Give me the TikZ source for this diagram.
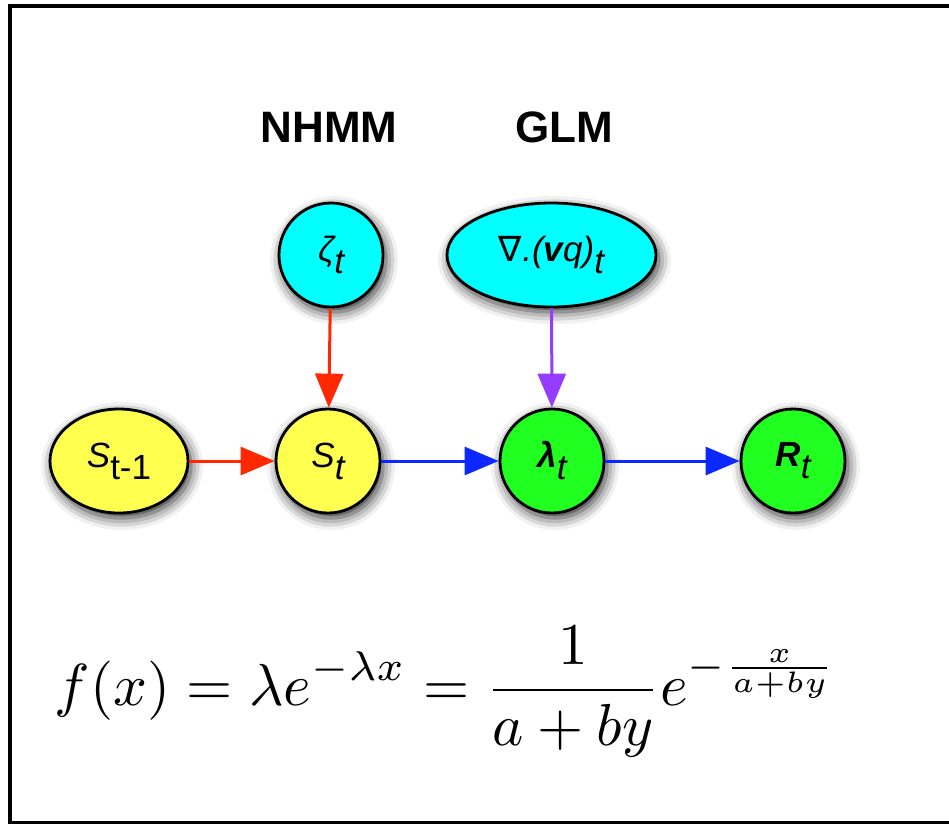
\documentclass[tikz,border=0pt]{standalone}
\usepackage{fontspec}
\setsansfont{Liberation Sans}
\newfontfamily\dejavu{DejaVu Sans}
\usetikzlibrary{arrows.meta,shadows.blur,shapes.geometric}
\definecolor{nyellow}{RGB}{255,255,80}
\definecolor{ncyan}{RGB}{0,255,255}
\definecolor{ngreen}{RGB}{32,255,32}
\definecolor{ared}{RGB}{255,40,0}
\definecolor{ablue}{RGB}{10,40,255}
\definecolor{apurple}{RGB}{150,60,255}
\newcommand\lowsub[1]{\raisebox{-12pt}{#1}}
\tikzset{
  gnode/.style={draw=black, line width=2.8pt, inner sep=0pt,
    font=\fontsize{35}{40}\selectfont\sffamily,
    blur shadow={shadow xshift=3pt, shadow yshift=-5pt, shadow blur radius=12pt, shadow opacity=85}},
  circnode/.style={gnode, circle, minimum size=104pt},
  ellnode/.style={gnode, ellipse},
  arr/.style={line width=3pt, -{Triangle[length=34pt,width=28pt]}},
  title/.style={font=\fontsize{44}{50}\selectfont\sffamily\bfseries}
}
\begin{document}
\begin{tikzpicture}[x=1pt,y=-1pt]
\useasboundingbox (0,0) rectangle (949,823);
\begin{scope}
\clip (0,0) rectangle (949,823);
\draw[line width=4.2pt] (9.7,6.3) rectangle (1000,823.5);
\end{scope}
\node[title] (nhmm) at (329,127) {NHMM};
\node[title] (glm) at (564,127) {GLM};
\node[ellnode, fill=nyellow, minimum width=138pt, minimum height=104pt] (s1) at (119,461) {\itshape S\lowsub{\upshape t-1}};
\node[circnode, fill=nyellow] (s) at (328,461) {\itshape S\lowsub{t}};
\node[circnode, fill=ncyan] (z) at (331,255) {\itshape ζ\lowsub{t}};
\node[ellnode, fill=ncyan, minimum width=209pt, minimum height=104pt] (n) at (551.5,255) {\itshape{\dejavu ∇}.(\textbf{v}q)\lowsub{t}};
\node[circnode, fill=ngreen] (l) at (552,461) {\itshape\textbf{λ}\lowsub{t}};
\node[circnode, fill=ngreen] (r) at (793,461) {\itshape\textbf{R}\lowsub{t}};
\draw[arr, ared] (s1) -- (s);
\draw[arr, ared] (z) -- (s);
\draw[arr, ablue] (s) -- (l);
\draw[arr, ablue] (l) -- (r);
\draw[arr, apurple] (n) -- (l);
\node[scale=5.93] (eq) at (446,692) {$\displaystyle f(x)=\lambda e^{-\lambda x}=\frac{1}{a+by}e^{-\frac{x}{a+by}}$};
\end{tikzpicture}
\end{document}
